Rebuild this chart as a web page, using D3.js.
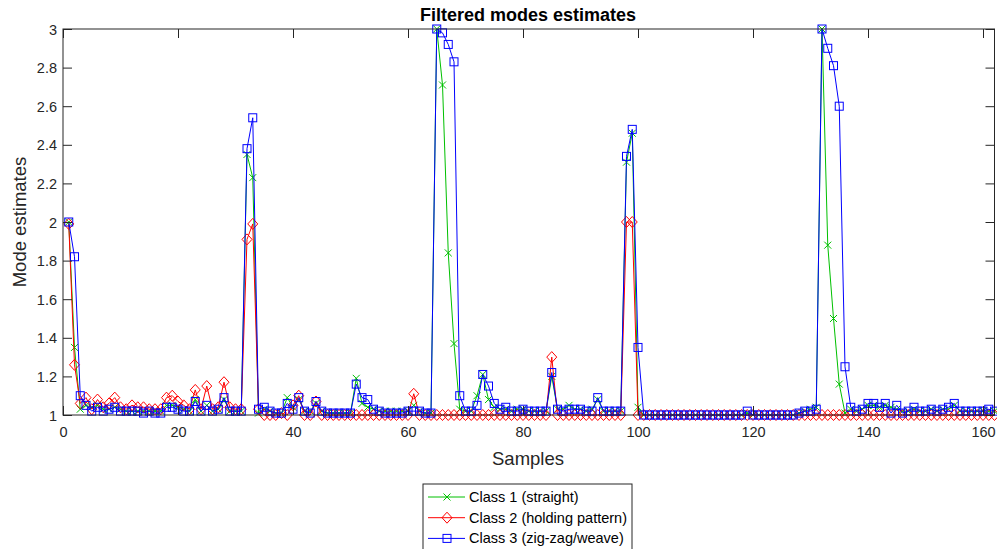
<!DOCTYPE html>
<html>
<head>
<meta charset="utf-8">
<script src="https://cdn.jsdelivr.net/npm/d3@7"></script>
<style>
  html, body { margin: 0; padding: 0; background: #fff; }
  svg { display: block; }
  text { font-family: "Liberation Sans", Arial, sans-serif; }
</style>
</head>
<body>
<svg id="chart" width="997" height="549"></svg>
<script>
// ---------------- DATA ----------------
const title = "Filtered modes estimates";
const xLabel = "Samples";
const yLabel = "Mode estimates";
const xTicks = [0, 20, 40, 60, 80, 100, 120, 140, 160];
const yTicks = [1, 1.2, 1.4, 1.6, 1.8, 2, 2.2, 2.4, 2.6, 2.8, 3];
const seriesNames = ["Class 1 (straight)", "Class 2 (holding pattern)", "Class 3 (zig-zag/weave)"];

// samples 1..162
const class1 = [
  2.00,1.35,1.03,1.05,1.04,1.05,1.03,1.03,1.04,1.03,
  1.02,1.02,1.02,1.02,1.02,1.02,1.02,1.05,1.05,1.04,
  1.03,1.02,1.08,1.02,1.05,1.02,1.03,1.08,1.02,1.02,
  1.02,2.35,2.23,1.01,1.03,1.02,1.01,1.01,1.09,1.04,
  1.08,1.02,1.02,1.06,1.02,1.01,1.01,1.01,1.01,1.01,
  1.19,1.06,1.04,1.03,1.02,1.02,1.02,1.02,1.02,1.02,
  1.05,1.02,1.01,1.01,3.00,2.71,1.84,1.37,1.03,1.02,
  1.02,1.10,1.21,1.08,1.04,1.03,1.03,1.02,1.03,1.03,
  1.02,1.02,1.02,1.02,1.20,1.03,1.03,1.05,1.03,1.03,
  1.02,1.03,1.08,1.02,1.02,1.02,1.02,2.31,2.46,1.04,
  1.00,1.00,1.00,1.00,1.00,1.00,1.00,1.00,1.00,1.00,
  1.00,1.00,1.00,1.00,1.00,1.00,1.00,1.00,1.01,1.00,
  1.00,1.00,1.00,1.00,1.00,1.00,1.00,1.01,1.02,1.03,
  1.04,3.00,1.88,1.50,1.16,1.01,1.03,1.02,1.03,1.05,
  1.05,1.04,1.05,1.04,1.03,1.02,1.02,1.03,1.02,1.02,
  1.03,1.02,1.03,1.03,1.05,1.02,1.02,1.02,1.02,1.02,
  1.02,1.02
];
const class2 = [
  1.99,1.26,1.06,1.09,1.03,1.08,1.04,1.06,1.09,1.04,
  1.03,1.05,1.04,1.04,1.03,1.03,1.03,1.09,1.10,1.07,
  1.05,1.03,1.13,1.03,1.15,1.03,1.04,1.17,1.04,1.03,
  1.03,1.91,1.99,1.03,1.00,1.00,1.00,1.01,1.00,1.05,
  1.10,1.00,1.00,1.07,1.00,1.00,1.00,1.00,1.00,1.00,
  1.00,1.00,1.00,1.00,1.00,1.00,1.00,1.00,1.00,1.00,
  1.11,1.00,1.00,1.00,1.00,1.00,1.00,1.00,1.00,1.00,
  1.00,1.00,1.00,1.00,1.00,1.00,1.00,1.00,1.00,1.00,
  1.00,1.00,1.00,1.00,1.30,1.00,1.00,1.00,1.00,1.00,
  1.00,1.00,1.00,1.00,1.00,1.00,1.00,2.00,2.00,1.00,
  1.00,1.00,1.00,1.00,1.00,1.00,1.00,1.00,1.00,1.00,
  1.00,1.00,1.00,1.00,1.00,1.00,1.00,1.00,1.00,1.00,
  1.00,1.00,1.00,1.00,1.00,1.00,1.00,1.00,1.00,1.00,
  1.00,1.00,1.00,1.00,1.00,1.00,1.00,1.00,1.00,1.00,
  1.00,1.00,1.00,1.00,1.00,1.00,1.00,1.00,1.00,1.00,
  1.00,1.00,1.00,1.00,1.00,1.00,1.00,1.00,1.00,1.00,
  1.00,1.00
];
const class3 = [
  2.00,1.82,1.10,1.05,1.02,1.04,1.02,1.03,1.04,1.02,
  1.02,1.02,1.02,1.01,1.02,1.01,1.01,1.04,1.04,1.03,
  1.02,1.02,1.07,1.02,1.05,1.02,1.03,1.09,1.02,1.02,
  1.02,2.38,2.54,1.03,1.04,1.02,1.01,1.01,1.06,1.03,
  1.09,1.02,1.01,1.07,1.02,1.01,1.01,1.01,1.01,1.01,
  1.16,1.09,1.08,1.03,1.02,1.01,1.01,1.01,1.01,1.02,
  1.02,1.02,1.01,1.01,3.00,2.98,2.92,2.83,1.10,1.02,
  1.02,1.05,1.21,1.15,1.06,1.03,1.04,1.02,1.02,1.03,
  1.02,1.02,1.02,1.02,1.22,1.03,1.02,1.03,1.03,1.03,
  1.02,1.02,1.09,1.02,1.02,1.02,1.02,2.34,2.48,1.35,
  1.00,1.00,1.00,1.00,1.00,1.00,1.00,1.00,1.00,1.00,
  1.00,1.00,1.00,1.00,1.00,1.00,1.00,1.00,1.02,1.00,
  1.00,1.00,1.00,1.00,1.00,1.00,1.00,1.01,1.02,1.02,
  1.03,3.00,2.90,2.81,2.60,1.25,1.04,1.02,1.03,1.06,
  1.06,1.04,1.06,1.01,1.05,1.01,1.02,1.04,1.02,1.02,
  1.03,1.02,1.03,1.04,1.06,1.02,1.02,1.02,1.02,1.02,
  1.03,1.02
];
const seriesColors = ["#00c000", "#ff0000", "#0000ff"];

// ---------------- CHART ----------------
const svg = d3.select("#chart");
const L = 63, R = 994.5, T = 29, B = 415;
const x = d3.scaleLinear().domain([0, 162]).range([L, R]);
const y = d3.scaleLinear().domain([1, 3]).range([B, T]);
const tickLen = 9;
const axisColor = "#262626";

const series = [class1, class2, class3].map((vals, i) => ({
  name: seriesNames[i], color: seriesColors[i], marker: ["x", "diamond", "square"][i],
  pts: vals.map((v, j) => [j + 1, v])
}));

const plot = svg.append("g");

function drawMarker(g, type, cx, cy, color) {
  if (type === "x") {
    const s = 3.5;
    g.append("path").attr("d", `M${cx-s},${cy-s}L${cx+s},${cy+s}M${cx-s},${cy+s}L${cx+s},${cy-s}`)
      .attr("stroke", color).attr("stroke-width", 1).attr("fill", "none");
  } else if (type === "diamond") {
    const w = 5, h = 5.5;
    g.append("path").attr("d", `M${cx},${cy-h}L${cx+w},${cy}L${cx},${cy+h}L${cx-w},${cy}Z`)
      .attr("stroke", color).attr("stroke-width", 1).attr("fill", "none");
  } else {
    const s = 4;
    g.append("rect").attr("x", cx - s).attr("y", cy - s).attr("width", 2 * s).attr("height", 2 * s)
      .attr("stroke", color).attr("stroke-width", 1).attr("fill", "none");
  }
}

const line = d3.line().x(d => x(d[0])).y(d => y(d[1]));

series.forEach(s => {
  const g = plot.append("g");
  g.append("path").datum(s.pts).attr("d", line).attr("fill", "none")
    .attr("stroke", s.color).attr("stroke-width", 1);
  s.pts.forEach(p => drawMarker(g, s.marker, x(p[0]), y(p[1]), s.color));
});

// axes box
const axes = svg.append("g");
axes.append("rect").attr("x", L).attr("y", T).attr("width", R - L).attr("height", B - T)
  .attr("fill", "none").attr("stroke", axisColor).attr("stroke-width", 1);

// x ticks (bottom and top, inward)
const xAxB = d3.axisBottom(x).tickValues(xTicks).tickSizeInner(-tickLen).tickSizeOuter(0).tickFormat(d3.format("d"));
const gxb = axes.append("g").attr("transform", `translate(0,${B})`).call(xAxB);
gxb.select(".domain").remove();
gxb.selectAll("line").attr("stroke", axisColor);
gxb.selectAll("text").attr("fill", axisColor).attr("font-size", 14.5)
  .attr("y", 22).attr("dy", null);

const xAxT = d3.axisTop(x).tickValues(xTicks).tickSizeInner(-tickLen).tickSizeOuter(0).tickFormat("");
const gxt = axes.append("g").attr("transform", `translate(0,${T})`).call(xAxT);
gxt.select(".domain").remove();
gxt.selectAll("line").attr("stroke", axisColor);

// y ticks (left and right, inward)
const yAxL = d3.axisLeft(y).tickValues(yTicks).tickSizeInner(-tickLen).tickSizeOuter(0).tickFormat(d => String(+d.toFixed(1)));
const gyl = axes.append("g").attr("transform", `translate(${L},0)`).call(yAxL);
gyl.select(".domain").remove();
gyl.selectAll("line").attr("stroke", axisColor);
gyl.selectAll("text").attr("fill", axisColor).attr("font-size", 14.5)
  .attr("x", -6).attr("dy", "0.35em");

const yAxR = d3.axisRight(y).tickValues(yTicks).tickSizeInner(-tickLen).tickSizeOuter(0).tickFormat("");
const gyr = axes.append("g").attr("transform", `translate(${R},0)`).call(yAxR);
gyr.select(".domain").remove();
gyr.selectAll("line").attr("stroke", axisColor);

// title and labels
svg.append("text").attr("x", 528).attr("y", 21).attr("text-anchor", "middle")
  .attr("font-size", 18).attr("font-weight", "bold").attr("fill", "#000").text(title);
svg.append("text").attr("x", 528).attr("y", 465).attr("text-anchor", "middle")
  .attr("font-size", 18.5).attr("fill", axisColor).text(xLabel);
svg.append("text").attr("transform", `translate(26,${(T + B) / 2}) rotate(-90)`).attr("text-anchor", "middle")
  .attr("font-size", 18.5).attr("fill", axisColor).text(yLabel);

// legend
const lg = svg.append("g");
const lgX = 423, lgY = 484, lgW = 209, lgH = 66;
lg.append("rect").attr("x", lgX).attr("y", lgY).attr("width", lgW).attr("height", lgH)
  .attr("fill", "#fff").attr("stroke", axisColor).attr("stroke-width", 1);
series.forEach((s, i) => {
  const cy = 497 + i * 20.7;
  lg.append("line").attr("x1", 428).attr("x2", 465).attr("y1", cy).attr("y2", cy)
    .attr("stroke", s.color).attr("stroke-width", 1);
  drawMarker(lg, s.marker, 447, cy, s.color);
  lg.append("text").attr("x", 469).attr("y", cy + 5).attr("font-size", 14.5).attr("fill", "#000").text(s.name);
});
</script>
</body>
</html>
